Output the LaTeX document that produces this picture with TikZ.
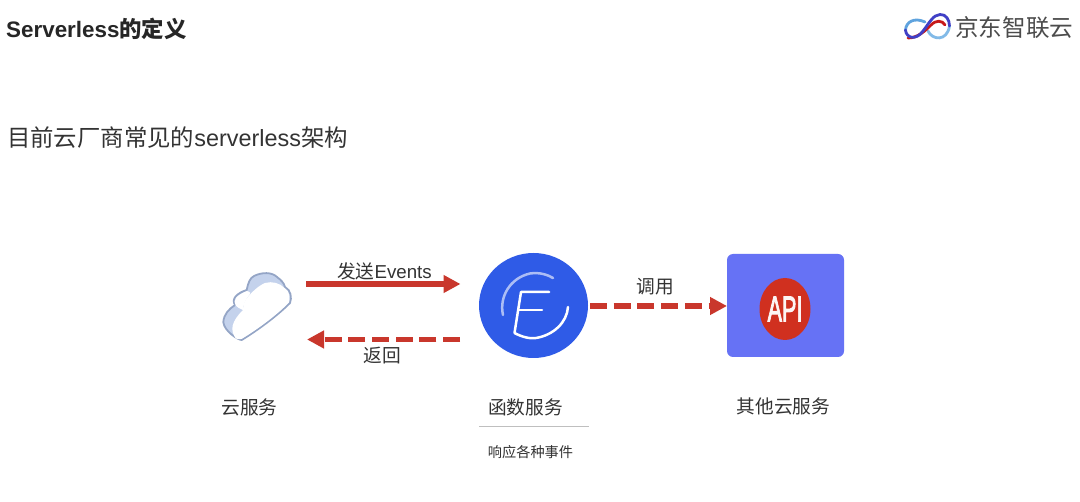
\documentclass[tikz,border=0pt]{standalone}
\usepackage{fontspec}
\setmainfont{Liberation Sans}
\newfontfamily\cjk{Noto Sans CJK SC}
\newfontfamily\apifont[FakeBold=3]{Liberation Sans}
\newcommand{\zh}[1]{{\cjk #1}}
\usetikzlibrary{arrows.meta,shapes.geometric}
\definecolor{txt}{HTML}{333333}
\definecolor{redarrow}{HTML}{C9372C}
\definecolor{fblue}{HTML}{2F5BE7}
\definecolor{apibg}{HTML}{6672F5}
\definecolor{apired}{HTML}{D0301F}
\definecolor{cloudedge}{HTML}{94A5C6}
\definecolor{cloudside}{HTML}{C4D2EC}
\tikzset{
  lbl/.style={font=\fontsize{18.7}{22}\selectfont,text=txt,inner sep=0pt,anchor=center},
  flow/.style={draw=redarrow,line width=5.4pt,-{Triangle[length=17pt,width=17pt,fill=redarrow]}},
  flowdash/.style={flow,dash pattern=on 17pt off 6.7pt},
  logostroke/.style={line width=2.8pt,line cap=round},
}
\begin{document}
\begin{tikzpicture}[x=1pt,y=-1pt]
\useasboundingbox (0,0) rectangle (1080,502);
\fill[white] (0,0) rectangle (1080,502);
% titles
\node[font=\bfseries\fontsize{22.4}{26}\selectfont,text=black!85,inner sep=0pt,anchor=west] (title) at (6,29) {Serverless{\cjk\bfseries 的定义}};
\node[font=\fontsize{23.4}{27}\selectfont,text=txt,inner sep=0pt,anchor=west] (sub) at (7,138) {\zh{目前云厂商常见的}serverless\zh{架构}};
% logo
\draw[logostroke,cyan!65!blue!65] (905.5,30) .. controls (906,22) and (914,17) .. (925,22);
\draw[logostroke,cyan!70!blue!50] (928,31) .. controls (932,40) and (947,42) .. (949.5,26);
\draw[logostroke,red!75!black!90] (908,38) .. controls (918,38) and (926,30) .. (931,25) .. controls (936,20) and (942,20) .. (945,25);
\draw[logostroke,blue!70!black!75] (905.5,30) .. controls (906,38) and (916,41) .. (923,31) .. controls (930,22) and (933,15) .. (940,14.5) .. controls (946,14) and (949.5,20) .. (949.5,26);
\node[font=\cjk\fontsize{23.6}{26}\selectfont,text=black!70,inner sep=0pt,anchor=west] (logo) at (955,28) {京东智联云};
% cloud
\draw[cloudedge,fill=cloudside,line width=1.8pt,line join=round]
  (223.3,322) .. controls (224,314) and (229,309) .. (235,305)
  .. controls (231,299) and (237,293) .. (246.7,290)
  .. controls (248,283) and (250,278) .. (254,276)
  .. controls (262,272) and (272,272) .. (277,277)
  .. controls (281,280) and (284,283) .. (285,287)
  .. controls (291,290) and (292,298) .. (290,303)
  .. controls (277,316) and (258,330) .. (241.7,340)
  .. controls (238,340) and (224,331) .. (223.3,322) -- cycle;
\fill[white] (235.7,338.5) .. controls (230,330) and (231,322) .. (243,310)
  .. controls (243,305) and (245,300) .. (247,298)
  .. controls (252,292) and (258,286) .. (265,283)
  .. controls (272,281) and (280,283) .. (284.5,288)
  .. controls (290,291) and (290,298) .. (289,302.3)
  .. controls (277,315) and (258,329) .. (241.5,339)
  .. controls (239,339.2) and (237,339) .. (235.7,338.5) -- cycle;
\fill[white] (235.7,305.5) .. controls (232,300) and (237,295) .. (247,291) .. controls (250,292) and (251,293) .. (250,294)
  .. controls (246,298) and (243,305) .. (243,310) .. controls (240,309) and (237,307) .. (235.7,305.5) -- cycle;
% function node
\node[ellipse,fill=fblue,minimum width=109pt,minimum height=105pt,inner sep=0pt] (fn) at (533.5,305.5) {};
\draw[white,line width=2.5pt,line cap=round,line join=round]
  (549,292) -- (521,292) -- (514.5,333) .. controls (522,337) and (530,339) .. (536,338) .. controls (554,335) and (567,322) .. (568,307);
\draw[white,line width=2.5pt,line cap=round] (519,310) -- (542,310);
\draw[white!60!fblue,line width=2.5pt,line cap=round] (503,315) .. controls (499,297) and (510,278) .. (530,273.5) .. controls (540,272) and (548,275) .. (553,278);
% api node
\node[fill=apibg,rounded corners=6pt,minimum width=117pt,minimum height=103pt,inner sep=0pt] (api) at (785.5,305.5) {};
\node[ellipse,fill=apired,minimum width=51pt,minimum height=62pt,inner sep=0pt,text=white!95!apired,font=\apifont\fontsize{36}{38}\selectfont] (apilogo) at (785,309) {\scalebox{.6}[1]{API}};
% arrows
\coordinate (a1) at (306,284);
\coordinate (a2) at (460.5,284);
\coordinate (b1) at (460,339.5);
\coordinate (b2) at (307,339.5);
\coordinate (c1) at (590,306);
\coordinate (c2) at (727,306);
\draw[flow] (a1) -- (a2);
\draw[flowdash] (b1) -- (b2);
\draw[flowdash] (c1) -- (c2);
% labels
\node[lbl] (l1) at (384.5,271) {\zh{发送}Events};
\node[lbl] (l2) at (382,356) {\zh{返回}};
\node[lbl] (l3) at (655,287) {\zh{调用}};
\node[lbl] (n1) at (249.5,407) {\zh{云服务}};
\node[lbl] (n2) at (525.5,407) {\zh{函数服务}};
\node[lbl] (n3) at (783.5,406) {\zh{其他云服务}};
\coordinate (r1) at (479,426);
\coordinate (r2) at (589,426);
\draw[black!25,line width=0.7pt] (r1) -- (r2);
\node[font=\cjk\fontsize{14.2}{16}\selectfont,text=txt,inner sep=0pt] (n4) at (530.5,452) {响应各种事件};
\end{tikzpicture}
\end{document}
